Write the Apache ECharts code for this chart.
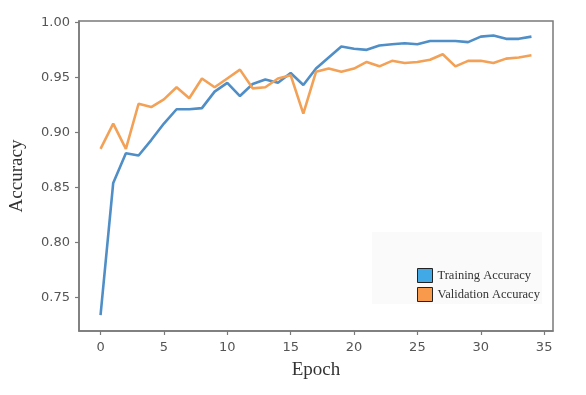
<!DOCTYPE html>
<html>
<head>
<meta charset="utf-8">
<script src="https://cdn.jsdelivr.net/npm/echarts@6/dist/echarts.min.js"></script>
<style>html,body{margin:0;padding:0;background:#fff}#c{width:586px;height:395px}</style>
</head>
<body>
<div id="c"></div>
<script>
const epochs = [0,1,2,3,4,5,6,7,8,9,10,11,12,13,14,15,16,17,18,19,20,21,22,23,24,25,26,27,28,29,30,31,32,33,34];
const trainingAccuracy = [0.734,0.854,0.881,0.879,0.893,0.908,0.921,0.921,0.922,0.937,0.945,0.933,0.944,0.948,0.945,0.954,0.943,0.958,0.968,0.978,0.976,0.975,0.979,0.980,0.981,0.980,0.983,0.983,0.983,0.982,0.987,0.988,0.985,0.985,0.987];
const validationAccuracy = [0.885,0.908,0.885,0.926,0.923,0.930,0.941,0.931,0.949,0.941,0.949,0.957,0.940,0.941,0.949,0.952,0.917,0.955,0.958,0.955,0.958,0.964,0.960,0.965,0.963,0.964,0.966,0.971,0.960,0.965,0.965,0.963,0.967,0.968,0.970];
const xTicks = [0,5,10,15,20,25,30,35];
const yTicks = [0.75,0.80,0.85,0.90,0.95,1.00];
const seriesNames = ['Training Accuracy','Validation Accuracy'];

const chart = echarts.init(document.getElementById('c'), null, {renderer:'canvas'});
const axisColor = '#7a7a7a';
const tickFont = {fontFamily:'DejaVu Sans', fontSize:13, color:'#555'};
chart.setOption({
  animation:false,
  backgroundColor:'#fff',
  grid:{left:76, top:21, right:33, bottom:64, show:true, borderColor:axisColor, borderWidth:1.5, backgroundColor:'transparent'},
  xAxis:{
    type:'value', min:-1.7, max:35.7,
    name:'Epoch', nameLocation:'middle', nameGap:30,
    nameTextStyle:{fontFamily:'Liberation Serif', fontSize:19, color:'#333'},
    axisLine:{show:true, onZero:false, lineStyle:{color:axisColor, width:1.5}},
    axisTick:{show:true, length:4, customValues:xTicks, lineStyle:{color:axisColor, width:1.2}},
    axisLabel:Object.assign({margin:10, customValues:xTicks, formatter:v=>String(Math.round(v))}, tickFont),
    splitLine:{show:false}
  },
  yAxis:{
    type:'value', min:0.7195, max:1.0012,
    name:'Accuracy', nameLocation:'middle', nameGap:52,
    nameTextStyle:{fontFamily:'Liberation Serif', fontSize:19, color:'#333'},
    axisLine:{show:true, onZero:false, lineStyle:{color:axisColor, width:1.5}},
    axisTick:{show:true, length:4, customValues:yTicks, lineStyle:{color:axisColor, width:1.2}},
    axisLabel:Object.assign({margin:9, customValues:yTicks, formatter:v=>v.toFixed(2)}, tickFont),
    splitLine:{show:false}
  },
  legend:{
    orient:'vertical', left:372, top:232,
    padding:[36,2,2,45],
    backgroundColor:'#fafafa',
    itemWidth:15, itemHeight:14, itemGap:4, icon:'rect',
    textStyle:{fontFamily:'Liberation Serif', fontSize:12.5, color:'#333'},
    data:[
      {name:seriesNames[0], itemStyle:{color:'#41a9e6', borderColor:'#222', borderWidth:1}},
      {name:seriesNames[1], itemStyle:{color:'#f79a4b', borderColor:'#222', borderWidth:1}}
    ]
  },
  series:[
    {name:seriesNames[0], type:'line', showSymbol:false, data:epochs.map((e,i)=>[e,trainingAccuracy[i]]),
     itemStyle:{color:'#41a9e6'}, lineStyle:{color:'#4f8ec6', width:2.6}},
    {name:seriesNames[1], type:'line', showSymbol:false, data:epochs.map((e,i)=>[e,validationAccuracy[i]]),
     itemStyle:{color:'#f79a4b'}, lineStyle:{color:'#f2a157', width:2.6}}
  ]
});
</script>
</body>
</html>
